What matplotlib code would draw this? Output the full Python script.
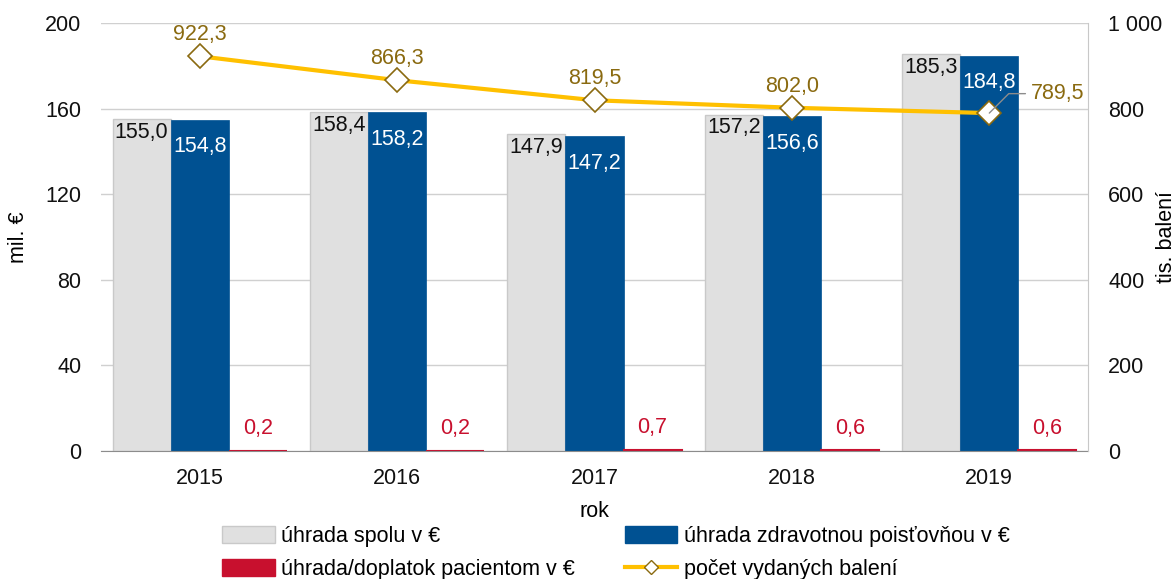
import matplotlib
matplotlib.use("Agg")
import matplotlib.pyplot as plt
import numpy as np
from matplotlib.patches import Patch
from matplotlib.lines import Line2D

plt.rcParams['font.family'] = ['Liberation Sans', 'DejaVu Sans']

years = ["2015", "2016", "2017", "2018", "2019"]
spolu = [155.0, 158.4, 147.9, 157.2, 185.3]
poistovna = [154.8, 158.2, 147.2, 156.6, 184.8]
pacient = [0.2, 0.2, 0.7, 0.6, 0.6]
balenia = [922.3, 866.3, 819.5, 802.0, 789.5]

c_gray = '#E0E0E0'
c_gray_edge = '#C9C9C9'
c_blue = '#005192'
c_red = '#C8102E'
c_yellow = '#FFC000'
c_gold = '#8A6A10'

def fmt(v):
    return f"{v:.1f}".replace('.', ',')

fig = plt.figure(figsize=(11.76, 5.79), dpi=100)
ax = fig.add_axes([101/1176, 1-451/579, 987/1176, 428/579])
ax2 = ax.twinx()

x = np.arange(len(years))
w = 0.294
fs = 15.5

ax.bar(x - w, spolu, w, color=c_gray, edgecolor=c_gray_edge, linewidth=1, zorder=2)
ax.bar(x, poistovna, w, color=c_blue, edgecolor=c_blue, linewidth=0.5, zorder=2)
ax.bar(x + w, pacient, w, color=c_red, edgecolor=c_red, linewidth=1.5, zorder=2)

for i in range(len(years)):
    ax.annotate(fmt(spolu[i]), (x[i] - w, spolu[i]), xytext=(0, -2), textcoords='offset points',
                ha='center', va='top', fontsize=fs, color='#111111', zorder=5)
    ax.annotate(fmt(poistovna[i]), (x[i], poistovna[i]), xytext=(0, -12), textcoords='offset points',
                ha='center', va='top', fontsize=fs, color='white', zorder=5)
    ax.annotate(fmt(pacient[i]), (x[i] + w, pacient[i]), xytext=(0, 8), textcoords='offset points',
                ha='center', va='bottom', fontsize=fs, color=c_red, zorder=5)

ax.set_xlim(-0.5, len(years) - 0.5)
ax.set_ylim(0, 200)
ax.set_yticks(np.arange(0, 201, 40))
ax.set_xticks(x)
ax.set_xticklabels(years)
ax.tick_params(axis='both', length=0, labelsize=fs, colors='#111111')
ax.tick_params(axis='y', pad=14)
ax.tick_params(axis='x', pad=12)
ax.grid(axis='y', color='#D0D0D0', linewidth=1, zorder=0)
ax.set_axisbelow(True)
for s in ['left', 'top']:
    ax.spines[s].set_visible(False)
ax.spines['bottom'].set_color('#8C8C8C')
ax.spines['right'].set_visible(False)

ax.set_ylabel('mil. €', fontsize=fs)
ax.yaxis.set_label_coords((29 - 101) / 987, 0.5)
ax.set_xlabel('rok', fontsize=fs)
ax.xaxis.set_label_coords(0.5, (451 - 501) / 428)

ax2.plot(x, balenia, color=c_yellow, linewidth=3, marker='D', markersize=12,
         markerfacecolor='white', markeredgecolor=c_gold, markeredgewidth=1.2, zorder=4)
ax2.set_ylim(0, 1000)
ax2.set_yticks(np.arange(0, 1001, 200))
ax2.set_yticklabels(['0', '200', '400', '600', '800', '1 000'])
ax2.tick_params(axis='y', length=0, labelsize=fs, pad=14.5, colors='#111111')
ax2.set_ylabel('tis. balení', fontsize=fs)
ax2.yaxis.set_label_coords((1156 - 101) / 987, 0.5)
for s in ['left', 'top', 'bottom']:
    ax2.spines[s].set_visible(False)
ax2.spines['right'].set_color('#C8C8C8')

for i in range(len(years) - 1):
    ax2.annotate(fmt(balenia[i]), (x[i], balenia[i]), xytext=(0, 8), textcoords='offset points',
                 ha='center', va='bottom', fontsize=fs, color=c_gold, zorder=6)
i = len(years) - 1
ax2.annotate(fmt(balenia[i]), (x[i], balenia[i]), xytext=(30, 14), textcoords='offset points',
             ha='left', va='center', fontsize=fs, color=c_gold, zorder=6,
             arrowprops=dict(arrowstyle='-', color='#8C8C8C', lw=1,
                             connectionstyle='angle,angleA=0,angleB=45,rad=0', shrinkA=2, shrinkB=0))

handles = [Patch(facecolor=c_gray, edgecolor=c_gray_edge),
           Patch(facecolor=c_red, edgecolor=c_red),
           Patch(facecolor=c_blue, edgecolor=c_blue),
           Line2D([0], [0], color=c_yellow, lw=3, marker='D', markersize=7,
                  markerfacecolor='white', markeredgecolor=c_gold)]
labels = ['úhrada spolu v €', 'úhrada/doplatok pacientom v €',
          'úhrada zdravotnou poisťovňou v €', 'počet vydaných balení']
fig.legend(handles, labels, ncol=2, loc='center left', bbox_to_anchor=(222/1176, 1-553/579),
           frameon=False, fontsize=fs, handlelength=2.45, handleheight=0.8, handletextpad=0.3,
           columnspacing=2.3, labelspacing=0.55, borderpad=0, borderaxespad=0)

fig.savefig('out.png', dpi=100)
